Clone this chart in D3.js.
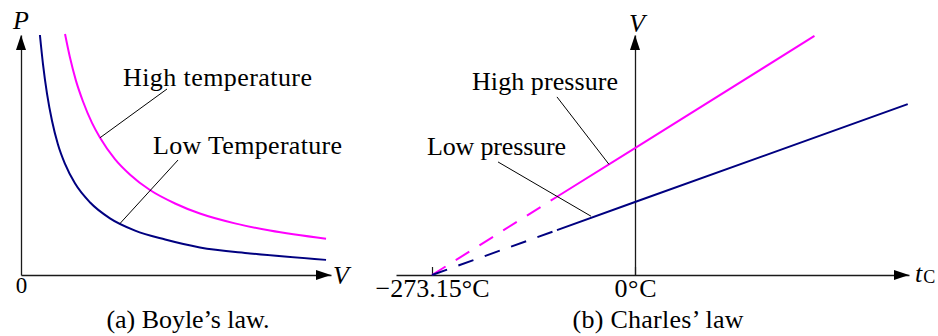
<!DOCTYPE html>
<html>
<head>
<meta charset="utf-8">
<script src="https://d3js.org/d3.v7.min.js"></script>
<style>
  html, body { margin: 0; padding: 0; background: #fff; }
  svg { display: block; }
  text { font-family: 'Liberation Serif', 'Times New Roman', serif; fill: #000; }
</style>
</head>
<body>
<div id="chart"></div>
<script>
'use strict';

// ─── DATA ────────────────────────────────────────────────────

// (a) Boyle's law: volume / pressure
var boyleVolLow   = [0.61, 0.71, 0.84, 1.00, 1.19, 1.42, 1.74, 2.23, 2.87, 3.68, 4.65, 5.77, 7.39, 9.84];
var boylePresLow  = [10.0, 8.78, 7.55, 6.43, 5.45, 4.63, 3.82, 3.02, 2.36, 1.85, 1.48, 1.15, 0.90, 0.63];
var boyleVolHigh  = [1.42, 1.58, 1.77, 2.00, 2.29, 2.55, 3.03, 3.52, 4.16, 4.97, 5.77, 6.90, 8.03, 9.84];
var boylePresHigh = [10.04, 9.06, 8.11, 7.23, 6.34, 5.72, 4.83, 4.18, 3.54, 2.98, 2.56, 2.15, 1.85, 1.51];

// (b) Charles' law: temperature (°C) / volume
var charlesTempHigh = [-273.15, -105, 0, 241.5];
var charlesVolHigh  = [0, 3.26, 5.29, 9.96];
var charlesTempLow  = [-273.15, -105, 0, 367];
var charlesVolLow   = [0, 1.87, 3.04, 7.12];
var extrapolatedBelow = -105;   // dashed to the left of this

var charlesTicks = [-273.15, 0];
var charlesTickLabels = ['\u2212273.15\u00B0C', '0\u00B0C'];

// ─── LAYOUT ──────────────────────────────────────────────────

var W = 938, H = 336;
var BLUE = '#000080', MAGENTA = '#ff00ff', INK = '#1a1a1a';
var FONT = 26;

var svg = d3.select('#chart').append('svg')
    .attr('width', W)
    .attr('height', H);
svg.append('rect').attr('width', W).attr('height', H).attr('fill', '#fff');

var xA = d3.scaleLinear().domain([0, 10]).range([21, 331]);
var yA = d3.scaleLinear().domain([0, 10]).range([275, 35]);
var xB = d3.scaleLinear().domain([-321.6, 368.7]).range([396, 909]);
var yB = d3.scaleLinear().domain([0, 10]).range([275, 35]);

// ─── HELPERS ─────────────────────────────────────────────────

function arrowHead(g, tipX, tipY, dx, dy) {
    var len = 15, half = 5;
    var bx = tipX - dx * len, by = tipY - dy * len;
    var pts = [[tipX, tipY], [bx - dy * half, by + dx * half], [bx + dy * half, by - dx * half]];
    g.append('path').attr('d', 'M' + pts.join('L') + 'Z').attr('fill', '#000');
}

function styleAxis(sel) {
    sel.attr('font-family', null).attr('font-size', null);
    sel.select('.domain').attr('stroke', INK).attr('stroke-width', 1.3);
    sel.selectAll('.tick line').attr('stroke', INK).attr('stroke-width', 1.2);
}

function drawFrame(g, x, y, originX) {
    var xAxis = g.append('g')
        .attr('transform', 'translate(0,' + y(0) + ')');
    var yAxis = g.append('g')
        .attr('transform', 'translate(' + originX + ',0)')
        .call(d3.axisLeft(y).tickValues([]).tickSizeOuter(0));
    styleAxis(yAxis);
    arrowHead(g, x.range()[1], y(0), 1, 0);
    arrowHead(g, originX, y.range()[1], 0, -1);
    return xAxis;
}

function drawNotes(g, x, y, notes) {
    notes.forEach(function(n) {
        g.append('line')
            .attr('x1', x(n.from[0])).attr('y1', y(n.from[1]))
            .attr('x2', x(n.to[0])).attr('y2', y(n.to[1]))
            .attr('stroke', '#000').attr('stroke-width', 1);
        g.append('text')
            .attr('x', x(n.at[0])).attr('y', y(n.at[1]))
            .attr('font-size', FONT)
            .attr('textLength', n.width)
            .attr('lengthAdjust', 'spacing')
            .text(n.text);
    });
}

// ─── (a) BOYLE'S LAW ─────────────────────────────────────────

var gA = svg.append('g');
var axA = drawFrame(gA, xA, yA, xA(0));
axA.call(d3.axisBottom(xA).tickValues([0]).tickSize(0).tickPadding(2).tickFormat(d3.format('d')));
styleAxis(axA);
axA.selectAll('.tick text').style('font-size', '23px');

var curve = d3.line()
    .x(function(d) { return xA(d[0]); })
    .y(function(d) { return yA(d[1]); })
    .curve(d3.curveMonotoneX);

gA.append('path').attr('d', curve(d3.zip(boyleVolLow, boylePresLow)))
    .attr('fill', 'none').attr('stroke', BLUE).attr('stroke-width', 2);
gA.append('path').attr('d', curve(d3.zip(boyleVolHigh, boylePresHigh)))
    .attr('fill', 'none').attr('stroke', MAGENTA).attr('stroke-width', 2);

drawNotes(gA, xA, yA, [
    { text: 'High temperature', at: [3.29, 7.875], width: 189, from: [4.71, 7.75], to: [2.55, 5.72] },
    { text: 'Low Temperature',  at: [4.26, 5.04],  width: 189, from: [5.065, 4.79], to: [3.19, 2.14] }
]);

gA.append('text').attr('x', xA(0)).attr('y', yA.range()[1] - 6)
    .attr('text-anchor', 'middle').attr('font-size', FONT).attr('font-style', 'italic').text('P');
gA.append('text').attr('x', xA.range()[1] + 2).attr('y', yA(0) + 9)
    .attr('font-size', FONT).attr('font-style', 'italic').text('V');
gA.append('text').attr('x', 188).attr('y', 328)
    .attr('text-anchor', 'middle').attr('font-size', FONT)
    .attr('textLength', 163).attr('lengthAdjust', 'spacing')
    .text('(a) Boyle\u2019s law.');

// ─── (b) CHARLES' LAW ────────────────────────────────────────

var gB = svg.append('g');
var axB = drawFrame(gB, xB, yB, xB(0));
axB.call(d3.axisBottom(xB).tickValues(charlesTicks).tickSizeInner(-8).tickSizeOuter(0).tickPadding(4)
    .tickFormat(function(d, i) { return charlesTickLabels[i]; }));
styleAxis(axB);
axB.selectAll('.tick text')
    .attr('font-size', FONT)
    .attr('textLength', function(d, i) { return [114, 42][i]; })
    .attr('lengthAdjust', 'spacing');

var straight = d3.line()
    .x(function(d) { return xB(d[0]); })
    .y(function(d) { return yB(d[1]); });

[[charlesTempHigh, charlesVolHigh, MAGENTA], [charlesTempLow, charlesVolLow, BLUE]].forEach(function(s) {
    var pts = d3.zip(s[0], s[1]);
    var dashed = pts.filter(function(p) { return p[0] <= extrapolatedBelow; });
    var solid = pts.filter(function(p) { return p[0] >= extrapolatedBelow; });
    gB.append('path').attr('d', straight(dashed))
        .attr('fill', 'none').attr('stroke', s[2]).attr('stroke-width', 2)
        .attr('stroke-dasharray', '16,12');
    gB.append('path').attr('d', straight(solid))
        .attr('fill', 'none').attr('stroke', s[2]).attr('stroke-width', 2);
});

drawNotes(gB, xB, yB, [
    { text: 'High pressure', at: [-219.3, 7.71], width: 146, from: [-105, 7.42], to: [-35, 4.61] },
    { text: 'Low pressure',  at: [-279.9, 5.0],  width: 139, from: [-184.3, 4.71], to: [-59.2, 2.45] }
]);

gB.append('text').attr('x', xB(0) + 2).attr('y', yB.range()[1] - 3)
    .attr('text-anchor', 'middle').attr('font-size', FONT).attr('font-style', 'italic').text('V');
var tc = gB.append('text').attr('x', xB.range()[1] + 6).attr('y', yB(0) + 7)
    .attr('font-size', FONT).attr('font-style', 'italic').text('t');
tc.append('tspan').attr('font-style', 'normal').attr('font-size', 18).attr('dx', 1).attr('dy', 1).text('C');
gB.append('text').attr('x', 658).attr('y', 328)
    .attr('text-anchor', 'middle').attr('font-size', FONT)
    .attr('textLength', 171).attr('lengthAdjust', 'spacing')
    .text('(b) Charles\u2019 law');
</script>
</body>
</html>
